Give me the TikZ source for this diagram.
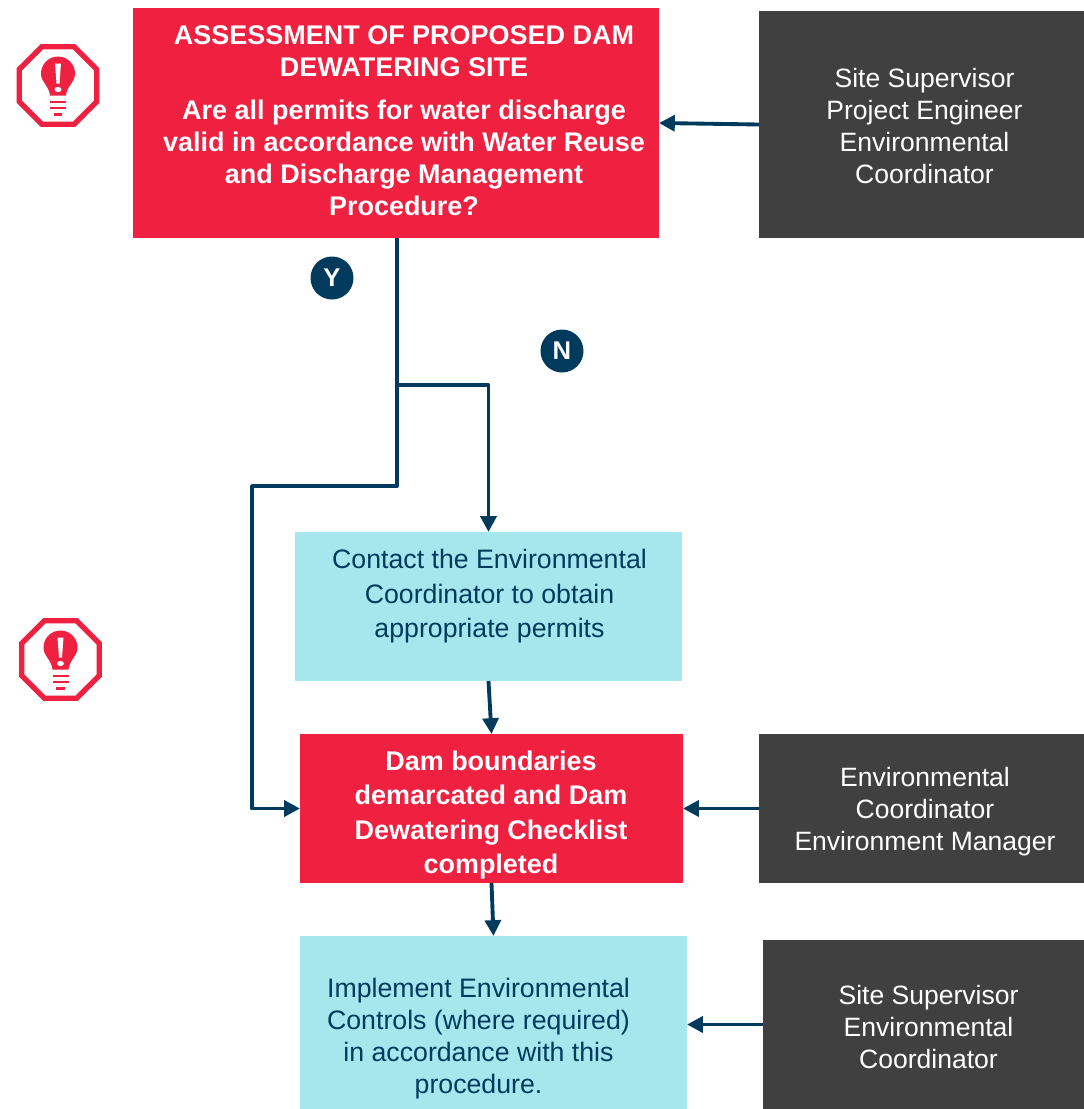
\documentclass[tikz,border=0pt]{standalone}
\usepackage{fontspec}
\setmainfont{Liberation Sans}
\usetikzlibrary{shapes.geometric, arrows.meta, positioning}
\definecolor{alertred}{HTML}{F02040}
\definecolor{darkgrey}{HTML}{404040}
\definecolor{paleblue}{HTML}{A6E6ED}
\definecolor{navy}{HTML}{003A5D}
\tikzset{
    box/.style={rectangle,minimum width=#1,anchor=center,inner sep=0pt,outer sep=0pt},
    redbox/.style={box=#1,fill=alertred},
    greybox/.style={box=#1,fill=darkgrey},
    bluebox/.style={box=#1,fill=paleblue},
    boldtext/.style={align=center,inner sep=0pt,text=white,font=\fontsize{15.35}{18.2}\selectfont\bfseries},
    greytext/.style={align=center,inner sep=0pt,text=white,font=\fontsize{15.1}{18.2}\selectfont},
    bluetext/.style={align=center,inner sep=0pt,text=navy,font=\fontsize{15.2}{18.2}\selectfont},
    link/.style={draw=navy,line width=2.2pt},
    arrow/.style={link,-{Triangle[length=9pt,width=9pt]}},
    badge/.style={circle,fill=navy,text=white,minimum size=43*0.02cm,inner sep=0pt,font=\fontsize{14.6}{17}\selectfont\bfseries},
    warnicon/.pic={
        \node[regular polygon,regular polygon sides=8,draw=alertred,line width=3pt,minimum size=84*0.02cm,inner sep=0pt] (-frame) at (0,0) {};
        \fill[alertred] (-17,-12) arc[start angle=180,end angle=360,radius=17] .. controls (17,-3) and (9,0) .. (8,10) -- (-8,10) .. controls (-9,0) and (-17,-3) .. (-17,-12) -- cycle;
        \fill[white] (-3,-22) -- (3,-22) -- (1.5,-2) -- (-1.5,-2) -- cycle;
        \fill[white] (0,4) ellipse[x radius=3.5,y radius=2.6];
        \fill[alertred] (-8,15) rectangle (8,17.5);
        \fill[alertred] (-8,21) rectangle (8,23.5);
        \fill[alertred] (-4.5,27.5) rectangle (4,30);
    }
}
\begin{document}
\begin{tikzpicture}[x=0.02cm,y=-0.02cm]
    \useasboundingbox (0,0) rectangle (1084,1109);

    % boxes
    \node[redbox=526*0.02cm,minimum height=230*0.02cm] (assess) at (396,123) {};
    \node[greybox=325*0.02cm,minimum height=227*0.02cm] (staffa) at (921.5,124.5) {};
    \node[bluebox=387*0.02cm,minimum height=149*0.02cm] (contact) at (488.5,606.5) {};
    \node[redbox=383*0.02cm,minimum height=149*0.02cm] (checklist) at (491.5,808.5) {};
    \node[greybox=325*0.02cm,minimum height=149*0.02cm] (staffb) at (921.5,808.5) {};
    \node[bluebox=387*0.02cm,minimum height=173*0.02cm] (controls) at (493.5,1022.5) {};
    \node[greybox=321*0.02cm,minimum height=169*0.02cm] (staffc) at (923.5,1024.5) {};

    % box texts
    \node[boldtext] (assesstext) at (404,121) {ASSESSMENT OF PROPOSED DAM\\DEWATERING SITE\\[6.1pt]Are all permits for water discharge\\valid in accordance with Water Reuse\\and Discharge Management\\Procedure?};
    \node[greytext] (staffatext) at (924.5,126) {Site Supervisor\\Project Engineer\\Environmental\\Coordinator};
    \node[bluetext,font=\fontsize{15.2}{19.6}\selectfont] (contacttext) at (489.5,596.5) {Contact the Environmental\\Coordinator to obtain\\appropriate permits};
    \node[boldtext,font=\fontsize{15.35}{19.4}\selectfont\bfseries] (checklisttext) at (491,815) {Dam boundaries\\demarcated and Dam\\Dewatering Checklist\\completed};
    \node[greytext] (staffbtext) at (925,812) {Environmental\\Coordinator\\Environment Manager};
    \node[bluetext] (controlstext) at (478.5,1039) {Implement Environmental\\Controls (where required)\\in accordance with this\\procedure.};
    \node[greytext] (staffctext) at (928.5,1027) {Site Supervisor\\Environmental\\Coordinator};

    % badges
    \node[badge] (yes) at (332,278) {Y};
    \node[badge] (no) at (562,351) {N};

    % warning icons
    \pic (warna) at (58,85.5) {warnicon};
    \pic (warnb) at (60.5,659.5) {warnicon};

    % connectors
    \coordinate (drop) at ([xshift=0.02cm]assess.south);
    \coordinate (split) at (drop |- 0,385);
    \coordinate (bendright) at (contact.north |- split);
    \coordinate (bendmid) at (drop |- 0,486);
    \coordinate (bendleft) at (252,486);
    \draw[arrow] (staffa.west) -- (assess.east);
    \draw[arrow,line join=round] (drop) -- (bendmid) -- (bendleft) -- (bendleft |- checklist.west) -- (checklist.west);
    \draw[arrow,line join=round] (split) -- (bendright) -- (contact.north);
    \draw[arrow] (contact.south) -- (checklist.north);
    \draw[arrow] (staffb.west) -- (checklist.east);
    \draw[arrow] (checklist.south) -- (controls.north);
    \draw[arrow] (staffc.west) -- (controls.east |- staffc.west);
\end{tikzpicture}
\end{document}
